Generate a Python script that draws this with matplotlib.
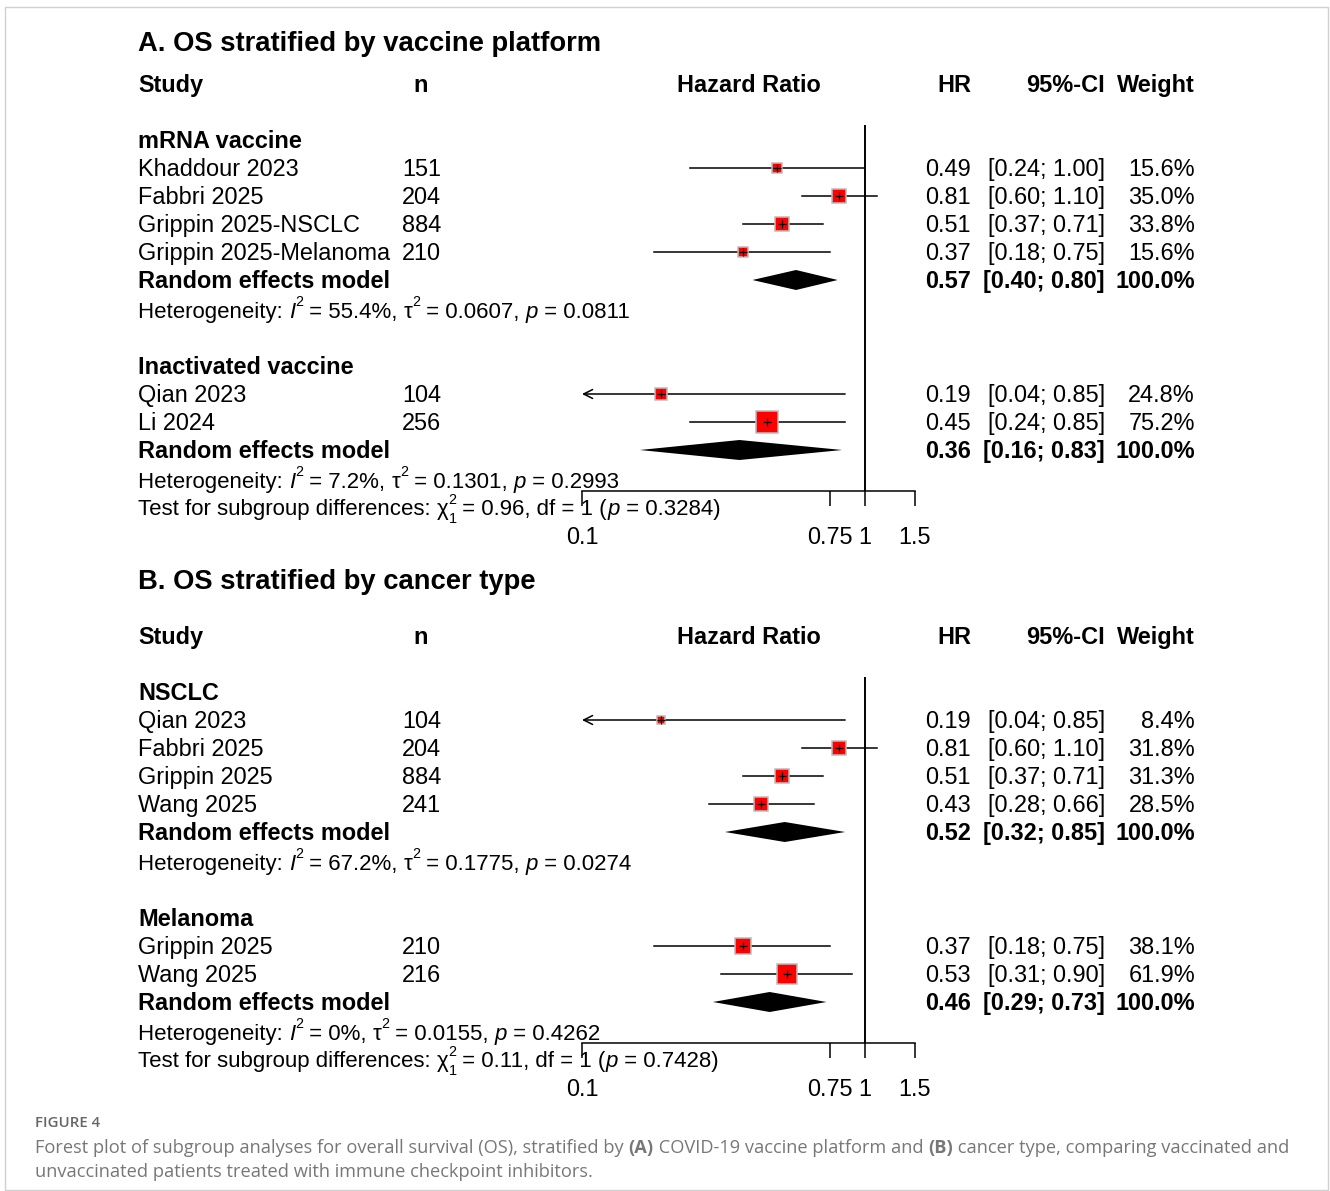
import matplotlib
matplotlib.use("Agg")
import matplotlib.pyplot as plt
import numpy as np
from matplotlib.patches import Rectangle
from matplotlib.ticker import NullLocator

W, H = 1330, 1191
DPI = 100

plt.rcParams['font.family'] = ['Liberation Sans', 'DejaVu Sans']

FS = 16.9          # body text (pt)
HET_FS = 16.0      # heterogeneity / subgroup test lines (pt)
TITLE_FS = 19.7    # panel titles (pt)
ROW = 28           # row step (px)

# Panel A: OS stratified by vaccine platform
a_groups = ["mRNA vaccine", "Inactivated vaccine"]
a_group_of = [0, 0, 0, 0, 1, 1]
a_study = ["Khaddour 2023", "Fabbri 2025", "Grippin 2025-NSCLC",
           "Grippin 2025-Melanoma", "Qian 2023", "Li 2024"]
a_n = [151, 204, 884, 210, 104, 256]
a_hr = [0.49, 0.81, 0.51, 0.37, 0.19, 0.45]
a_lo = [0.24, 0.60, 0.37, 0.18, 0.04, 0.24]
a_hi = [1.00, 1.10, 0.71, 0.75, 0.85, 0.85]
a_weight = [15.6, 35.0, 33.8, 15.6, 24.8, 75.2]
a_re_hr = [0.57, 0.36]
a_re_lo = [0.40, 0.16]
a_re_hi = [0.80, 0.83]
a_i2 = ["55.4%", "7.2%"]
a_tau2 = ["0.0607", "0.1301"]
a_het_p = ["0.0811", "0.2993"]
a_chi2 = "0.96"
a_test_p = "0.3284"

# Panel B: OS stratified by cancer type
b_groups = ["NSCLC", "Melanoma"]
b_group_of = [0, 0, 0, 0, 1, 1]
b_study = ["Qian 2023", "Fabbri 2025", "Grippin 2025", "Wang 2025",
           "Grippin 2025", "Wang 2025"]
b_n = [104, 204, 884, 241, 210, 216]
b_hr = [0.19, 0.81, 0.51, 0.43, 0.37, 0.53]
b_lo = [0.04, 0.60, 0.37, 0.28, 0.18, 0.31]
b_hi = [0.85, 1.10, 0.71, 0.66, 0.75, 0.90]
b_weight = [8.4, 31.8, 31.3, 28.5, 38.1, 61.9]
b_re_hr = [0.52, 0.46]
b_re_lo = [0.32, 0.29]
b_re_hi = [0.85, 0.73]
b_i2 = ["67.2%", "0%"]
b_tau2 = ["0.1775", "0.0155"]
b_het_p = ["0.0274", "0.4262"]
b_chi2 = "0.11"
b_test_p = "0.7428"

axis_ticks = [0.1, 0.75, 1, 1.5]
axis_labels = ["0.1", "0.75", "1", "1.5"]
x_min, x_max = 0.1, 1.5

# column positions (px)
X_STUDY = 138
X_N = 441
X_N_HEAD = 421
X_HR = 971
X_CI = 1105
X_WT = 1195
X_PLOT_L, X_PLOT_R = 582, 915

fig = plt.figure(figsize=(W / DPI, H / DPI), dpi=DPI)
fig.patch.set_facecolor('white')
renderer = fig.canvas.get_renderer()


def put(x, y, s, ha='left', bold=False, size=FS, **kw):
    """Place text with its cap-height centre at pixel (x, y)."""
    off = 0.358 * size * DPI / 72
    return fig.text(x / W, 1 - (y + off) / H, s, ha=ha, va='baseline',
                    fontsize=size, fontweight='bold' if bold else 'normal', **kw)


def text_width(s, **kw):
    probe = fig.text(0, 0, "|" + s + "|", **kw)
    bar = fig.text(0, 0, "||", **kw)
    w = probe.get_window_extent(renderer).width - bar.get_window_extent(renderer).width
    probe.remove()
    bar.remove()
    return w


def put_runs(x, y, runs, size=FS, **base):
    """Draw consecutive text runs on one baseline; each run may be italic,
    bold, raised/lowered and smaller (super/subscripts)."""
    baseline = y + 0.358 * size * DPI / 72
    for s, opt in runs:
        kw = dict(base)
        kw['fontsize'] = size * opt.get('scale', 1.0)
        kw['fontstyle'] = opt.get('style', 'normal')
        kw['fontweight'] = opt.get('weight', 'normal')
        fig.text(x / W, 1 - (baseline - opt.get('dy', 0)) / H, s,
                 ha='left', va='baseline', **kw)
        if opt.get('advance', True):
            x += text_width(s, **kw)


IT = {'style': 'italic'}
SUP = {'scale': 0.65, 'dy': 12}
SUB = {'scale': 0.65, 'dy': -8}
SUP_STACK = {'scale': 0.65, 'dy': 11, 'advance': False}


def draw_panel(title, title_y, header_y, groups, group_of, study, n, hr, lo, hi,
               weight, re_hr, re_lo, re_hi, i2, tau2, het_p, chi2, test_p):
    put(X_STUDY, title_y, title, bold=True, size=TITLE_FS)
    put(X_STUDY, header_y, "Study", bold=True)
    put(X_N_HEAD, header_y, "n", ha='center', bold=True)
    put((X_PLOT_L + X_PLOT_R) / 2, header_y, "Hazard Ratio", ha='center', bold=True)
    put(X_HR, header_y, "HR", ha='right', bold=True)
    put(X_CI, header_y, "95%-CI", ha='right', bold=True)
    put(X_WT, header_y, "Weight", ha='right', bold=True)

    # row layout
    y = header_y + 2 * ROW
    study_rows, re_rows = {}, []
    het_y = y
    for g, name in enumerate(groups):
        put(X_STUDY, y, name, bold=True)
        y += ROW
        for i in [k for k, gg in enumerate(group_of) if gg == g]:
            study_rows[i] = y
            y += ROW
        re_rows.append(y)
        het_y = y + 30
        put_runs(X_STUDY, het_y, [("Heterogeneity: ", {}), ("I", IT), ("2", SUP),
                                  (f" = {i2[g]}, ", {}), ("\u03c4", {}), ("2", SUP),
                                  (f" = {tau2[g]}, ", {}), ("p", IT),
                                  (f" = {het_p[g]}", {})], size=HET_FS)
        y = het_y + 2 * ROW
    test_y = het_y + 27
    put_runs(X_STUDY, test_y, [("Test for subgroup differences: ", {}), ("\u03c7", {}),
                               ("2", SUP_STACK), ("1", SUB),
                               (f" = {chi2}, df = 1 (", {}), ("p", IT),
                               (f" = {test_p})", {})], size=HET_FS)

    axis_y = test_y - 16
    top_y = header_y + 41
    ax = fig.add_axes([X_PLOT_L / W, 1 - axis_y / H, (X_PLOT_R - X_PLOT_L) / W,
                       (axis_y - top_y) / H])
    ax.set_xscale('log')
    ax.set_xlim(x_min, x_max)
    ax.set_ylim(axis_y, top_y)
    ax.patch.set_alpha(0)
    for side in ['top', 'left', 'right']:
        ax.spines[side].set_visible(False)
    ax.spines['bottom'].set_linewidth(1.1)
    ax.set_yticks([])
    ax.set_xticks(axis_ticks, axis_labels)
    ax.xaxis.set_minor_locator(NullLocator())
    ax.tick_params(axis='x', direction='out', length=10.5, width=1.1,
                   labelsize=FS, pad=15)

    ax.axvline(1, color='black', lw=1.4, zorder=1)

    # individual studies
    for i, row in study_rows.items():
        left = max(lo[i], x_min)
        right = min(hi[i], x_max)
        if lo[i] < x_min:
            ax.annotate('', xy=(left, row), xytext=(right, row),
                        arrowprops=dict(arrowstyle='->', lw=1.1, color='black',
                                        shrinkA=0, shrinkB=0, mutation_scale=16),
                        zorder=2)
        else:
            ax.plot([left, right], [row, row], color='black', lw=1.1, zorder=2)
        side = 2.5 * np.sqrt(weight[i]) * 72 / DPI
        ax.plot(hr[i], row, marker='s', markersize=side, color='#ff0000',
                markeredgecolor='#bcbcbc', markeredgewidth=1.1, zorder=3)
        ax.plot(hr[i], row, marker='+', markersize=6, color='black',
                markeredgewidth=0.9, zorder=4)

        put(X_STUDY, row, study[i])
        put(X_N, row, str(n[i]), ha='right')
        put(X_HR, row, f"{hr[i]:.2f}", ha='right')
        put(X_CI, row, f"[{lo[i]:.2f}; {hi[i]:.2f}]", ha='right')
        put(X_WT, row, f"{weight[i]:.1f}%", ha='right')

    # pooled estimates
    for g, row in enumerate(re_rows):
        ax.fill([re_lo[g], re_hr[g], re_hi[g], re_hr[g]],
                [row, row - 10, row, row + 10], color='black', lw=0, zorder=3)
        put(X_STUDY, row, "Random effects model", bold=True)
        put(X_HR, row, f"{re_hr[g]:.2f}", ha='right', bold=True)
        put(X_CI, row, f"[{re_lo[g]:.2f}; {re_hi[g]:.2f}]", ha='right', bold=True)
        put(X_WT, row, "100.0%", ha='right', bold=True)
    return ax


draw_panel("A. OS stratified by vaccine platform", 41, 84,
           a_groups, a_group_of, a_study, a_n, a_hr, a_lo, a_hi, a_weight,
           a_re_hr, a_re_lo, a_re_hi, a_i2, a_tau2, a_het_p, a_chi2, a_test_p)
draw_panel("B. OS stratified by cancer type", 579, 636,
           b_groups, b_group_of, b_study, b_n, b_hr, b_lo, b_hi, b_weight,
           b_re_hr, b_re_lo, b_re_hi, b_i2, b_tau2, b_het_p, b_chi2, b_test_p)

# caption
CAP_FS = 13.15
CAP = dict(family='Open Sans', color='#777777')
put_runs(35, 1122, [("FIGURE 4", {'weight': 'semibold'})], size=10.8,
         family='Open Sans', color='#666666')
put_runs(35, 1146, [("Forest plot of subgroup analyses for overall survival (OS), stratified by ", {}),
                    ("(A)", {'weight': 'bold'}),
                    (" COVID-19 vaccine platform and ", {}),
                    ("(B)", {'weight': 'bold'}),
                    (" cancer type, comparing vaccinated and", {})], size=CAP_FS, **CAP)
put_runs(35, 1170, [("unvaccinated patients treated with immune checkpoint inhibitors.", {})],
         size=CAP_FS, **CAP)

fig.patches.append(Rectangle((5 / W, 1 - 1190 / H), 1323 / W, 1183 / H,
                             transform=fig.transFigure, fill=False,
                             edgecolor='#d0d0d0', lw=1.0))

fig.savefig("out.png", dpi=DPI)
